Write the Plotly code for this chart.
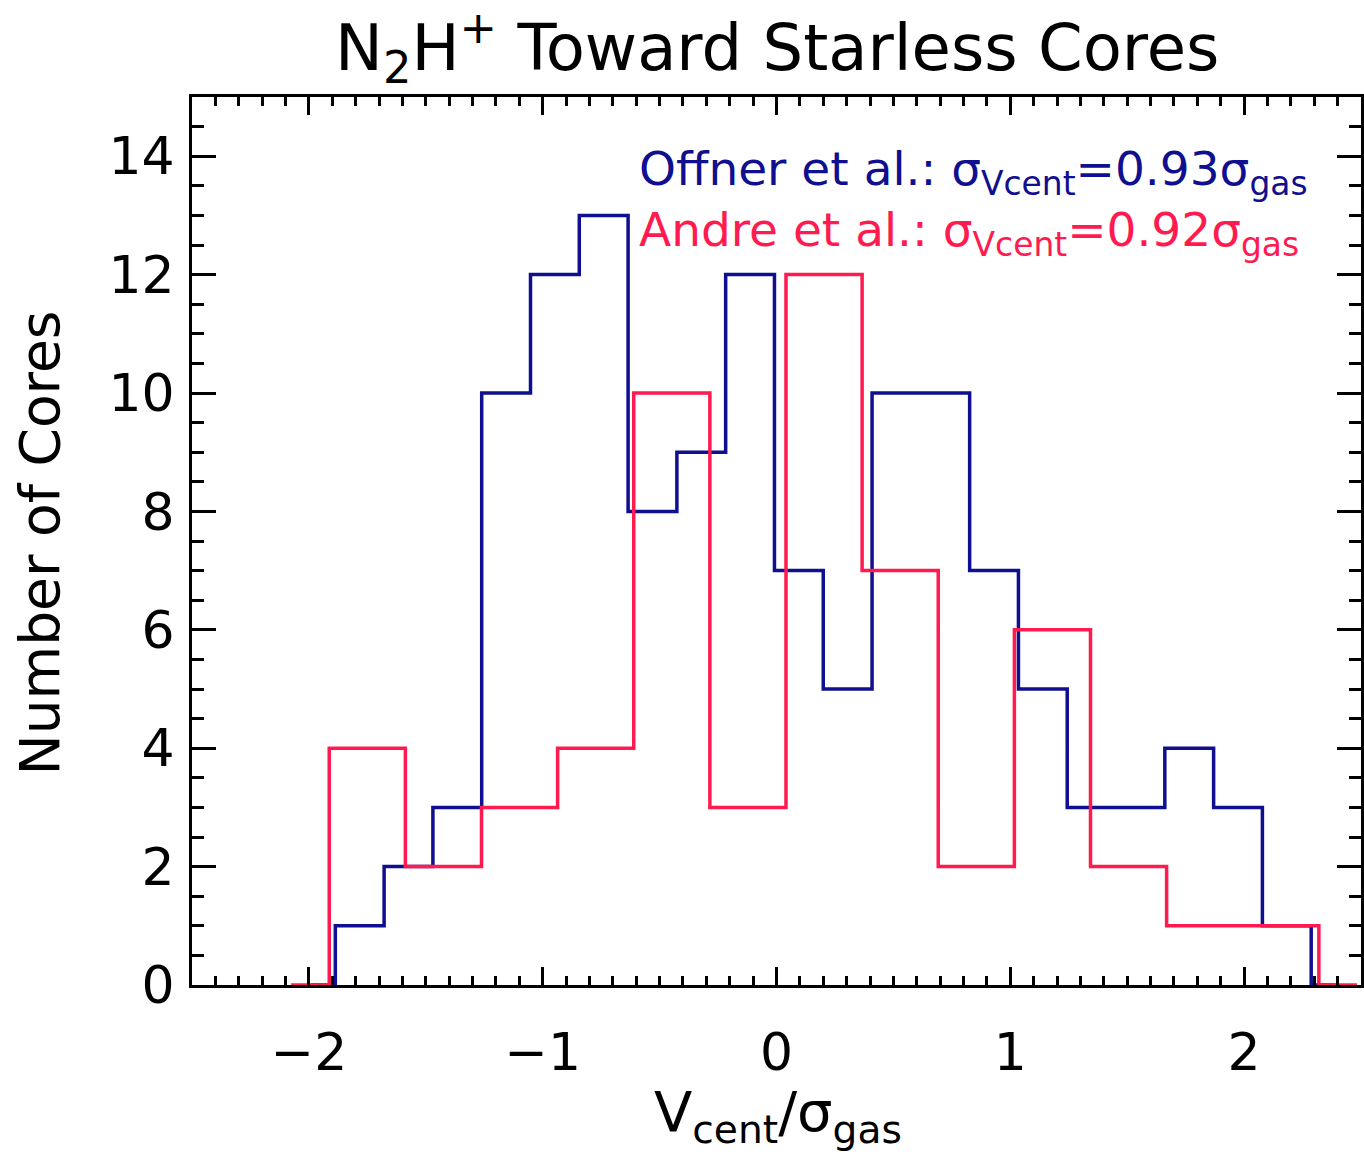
import numpy as np
import plotly.graph_objects as go

# ---- data ----
# Offner et al. histogram: first bin lower edge, bin width, counts
offner_bin_start = -1.887
offner_bin_width = 0.2087
offner_counts = [1, 2, 3, 10, 12, 13, 8, 9, 12, 7, 5, 10, 10, 7, 5, 3, 3, 4, 3, 1]

# Andre et al. histogram
andre_bin_start = -1.913
andre_bin_width = 0.3256
andre_counts = [4, 2, 3, 4, 10, 3, 12, 7, 2, 6, 2, 1, 1]

x_tick_vals = [-2, -1, 0, 1, 2]
y_tick_vals = [0, 2, 4, 6, 8, 10, 12, 14]

title_text = "N<sub>2</sub>H<sup>+</sup> Toward Starless Cores"
x_title = "V<sub>cent</sub>/σ<sub>gas</sub>"
y_title = "Number of Cores"
offner_label = "Offner et al.: σ<sub>Vcent</sub>=0.93σ<sub>gas</sub>"
andre_label = "Andre et al.: σ<sub>Vcent</sub>=0.92σ<sub>gas</sub>"

BLUE = "#0f0f8f"
RED = "#ff1a50"
FONT = "DejaVu Sans"


def step_points(start, width, counts):
    # IDL psym=10 style: bin centres padded by one empty bin on each side
    n = len(counts)
    centres = start + width * (np.arange(-1, n + 1) + 0.5)
    vals = [0] + list(counts) + [0]
    return centres, vals


fig = go.Figure()
bx, by = step_points(offner_bin_start, offner_bin_width, offner_counts)
fig.add_trace(go.Scatter(x=bx, y=by, mode="lines", line=dict(color=BLUE, width=3.5, shape="hvh"),
                         showlegend=False, hoverinfo="skip"))
rx, ry = step_points(andre_bin_start, andre_bin_width, andre_counts)
fig.add_trace(go.Scatter(x=rx, y=ry, mode="lines", line=dict(color=RED, width=3.5, shape="hvh"),
                         showlegend=False, hoverinfo="skip"))

W, H = 1364, 1157
L, T, B = 192, 97, 985
PW = W - L
PH = B - T


def xp(px):
    return (px - L) / PW


def yp(py):
    return (B - py) / PH


fig.update_layout(
    width=W, height=H,
    margin=dict(l=L, r=0, t=T, b=H - B),
    paper_bgcolor="white", plot_bgcolor="white",
    font=dict(family=FONT, color="black"),
)

fig.update_xaxes(
    range=[-2.5, 2.5], tickmode="array", tickvals=x_tick_vals,
    ticks="inside", ticklen=18, tickwidth=3, tickcolor="black",
    showline=True, linewidth=3, linecolor="black", mirror="allticks",
    showgrid=False, zeroline=False,
    minor=dict(tickmode="linear", tick0=0, dtick=0.1, ticks="inside", ticklen=9,
               tickwidth=3, tickcolor="black", showgrid=False),
    tickfont=dict(size=52, family=FONT, color="black"),
    ticklabelstandoff=20,
)
fig.update_yaxes(
    range=[0, 15], tickmode="array", tickvals=y_tick_vals,
    ticks="inside", ticklen=24, tickwidth=3, tickcolor="black",
    showline=True, linewidth=3, linecolor="black", mirror="allticks",
    showgrid=False, zeroline=False,
    minor=dict(tickmode="linear", tick0=0, dtick=0.5, ticks="inside", ticklen=12,
               tickwidth=3, tickcolor="black", showgrid=False),
    tickfont=dict(size=52, family=FONT, color="black"),
    ticklabelstandoff=4,
)

anns = [
    dict(text=title_text, x=0.5, y=yp(47), xref="paper", yref="paper",
         xanchor="center", yanchor="middle", showarrow=False,
         font=dict(size=64, family=FONT, color="black")),
    dict(text=x_title, x=xp(780), y=yp(1115), xref="paper", yref="paper",
         xanchor="center", yanchor="middle", showarrow=False,
         font=dict(size=56, family=FONT, color="black")),
    dict(text=y_title, x=xp(40), y=yp(543), xref="paper", yref="paper",
         xanchor="center", yanchor="middle", showarrow=False, textangle=-90,
         font=dict(size=55, family=FONT, color="black")),
    dict(text=offner_label, x=xp(638), y=yp(172), xref="paper", yref="paper",
         xanchor="left", yanchor="middle", showarrow=False,
         font=dict(size=47, family=FONT, color=BLUE)),
    dict(text=andre_label, x=xp(638), y=yp(233), xref="paper", yref="paper",
         xanchor="left", yanchor="middle", showarrow=False,
         font=dict(size=47, family=FONT, color=RED)),
]
fig.update_layout(annotations=anns)

fig.write_html("out.html")
